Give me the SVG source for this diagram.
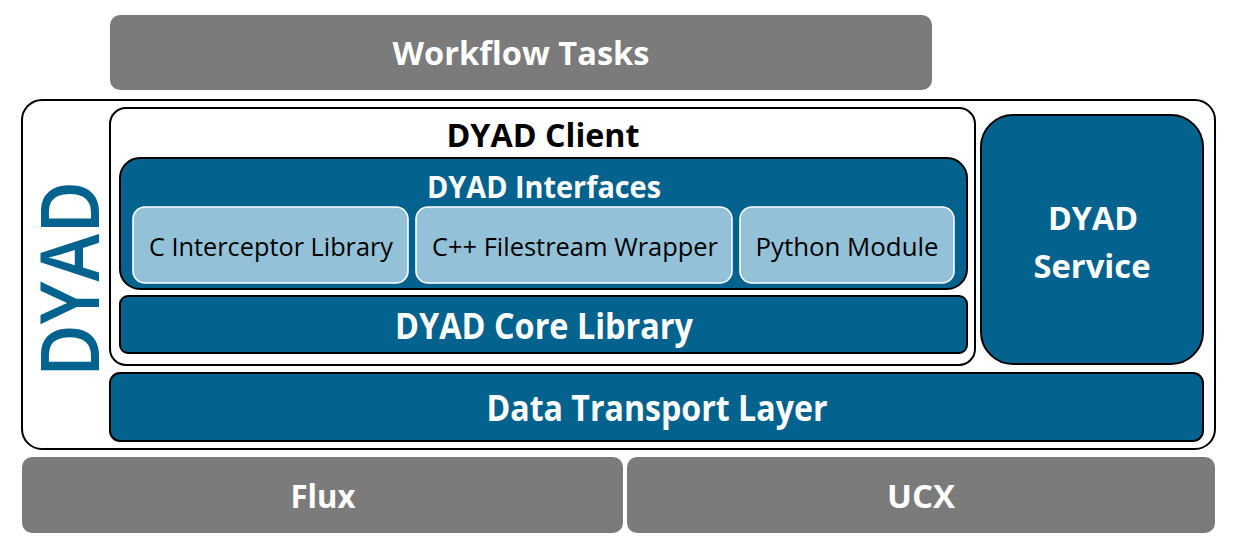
<svg xmlns="http://www.w3.org/2000/svg" width="1238" height="546" viewBox="0 0 1238 546">
<style>
.gray{fill:#7b7b7b}
.blue{fill:#04628f;stroke:#000;stroke-width:2}
.light{fill:#93c2d8;stroke:#fff;stroke-width:1.6}
.frame{fill:#fff;stroke:#000;stroke-width:2}
text{font-family:"Open Sans","Liberation Sans",sans-serif;text-anchor:middle}
.wb{fill:#fff;font-weight:700}
.kb{fill:#000;font-weight:700}
.kr{fill:#000;font-weight:400}
</style>
<rect width="1238" height="546" fill="#fff"/>
<g id="workflow">
<rect class="gray" x="110" y="15" width="822" height="75" rx="10"/>
<text class="wb" x="521" y="65" font-size="33" textLength="257" lengthAdjust="spacingAndGlyphs">Workflow Tasks</text>
</g>
<g id="dyad">
<rect class="frame" x="22" y="100" width="1193" height="349" rx="20"/>
<text transform="translate(99,279) rotate(-90)" x="0" y="0" font-size="82" font-weight="600" fill="#04628f" textLength="196" lengthAdjust="spacingAndGlyphs">DYAD</text>
</g>
<g id="client">
<rect class="frame" x="110" y="108" width="865" height="257" rx="16"/>
<text class="kb" x="543" y="147" font-size="32" textLength="193" lengthAdjust="spacingAndGlyphs">DYAD Client</text>
</g>
<g id="interfaces">
<rect class="blue" x="120" y="158" width="847" height="131" rx="20"/>
<text class="wb" x="544" y="198" font-size="31" textLength="234" lengthAdjust="spacingAndGlyphs">DYAD Interfaces</text>
</g>
<g id="c-interceptor">
<rect class="light" x="133" y="207" width="275" height="76" rx="12"/>
<text class="kr" x="271" y="256" font-size="25" textLength="244" lengthAdjust="spacingAndGlyphs">C Interceptor Library</text>
</g>
<g id="cpp-wrapper">
<rect class="light" x="416" y="207" width="316" height="76" rx="12"/>
<text class="kr" x="575" y="256" font-size="25" textLength="286" lengthAdjust="spacingAndGlyphs">C++ Filestream Wrapper</text>
</g>
<g id="python-module">
<rect class="light" x="740" y="207" width="214" height="76" rx="12"/>
<text class="kr" x="847" y="256" font-size="25" textLength="183" lengthAdjust="spacingAndGlyphs">Python Module</text>
</g>
<g id="core">
<rect class="blue" x="120" y="296" width="847" height="57" rx="8"/>
<text class="wb" x="544" y="339" font-size="35" textLength="298" lengthAdjust="spacingAndGlyphs">DYAD Core Library</text>
</g>
<g id="service">
<rect class="blue" x="981" y="115" width="222" height="249" rx="32"/>
<text class="wb" x="1093" y="230" font-size="33" textLength="90" lengthAdjust="spacingAndGlyphs">DYAD</text>
<text class="wb" x="1092" y="278" font-size="33" textLength="117" lengthAdjust="spacingAndGlyphs">Service</text>
</g>
<g id="transport">
<rect class="blue" x="110" y="373" width="1093" height="68" rx="10"/>
<text class="wb" x="657" y="421" font-size="35" textLength="341" lengthAdjust="spacingAndGlyphs">Data Transport Layer</text>
</g>
<g id="flux">
<rect class="gray" x="22" y="457" width="601" height="76" rx="10"/>
<text class="wb" x="323" y="508" font-size="33" textLength="65" lengthAdjust="spacingAndGlyphs">Flux</text>
</g>
<g id="ucx">
<rect class="gray" x="627" y="457" width="588" height="76" rx="10"/>
<text class="wb" x="921" y="508" font-size="33" textLength="68" lengthAdjust="spacingAndGlyphs">UCX</text>
</g>
<g id="connectors"></g>
</svg>
